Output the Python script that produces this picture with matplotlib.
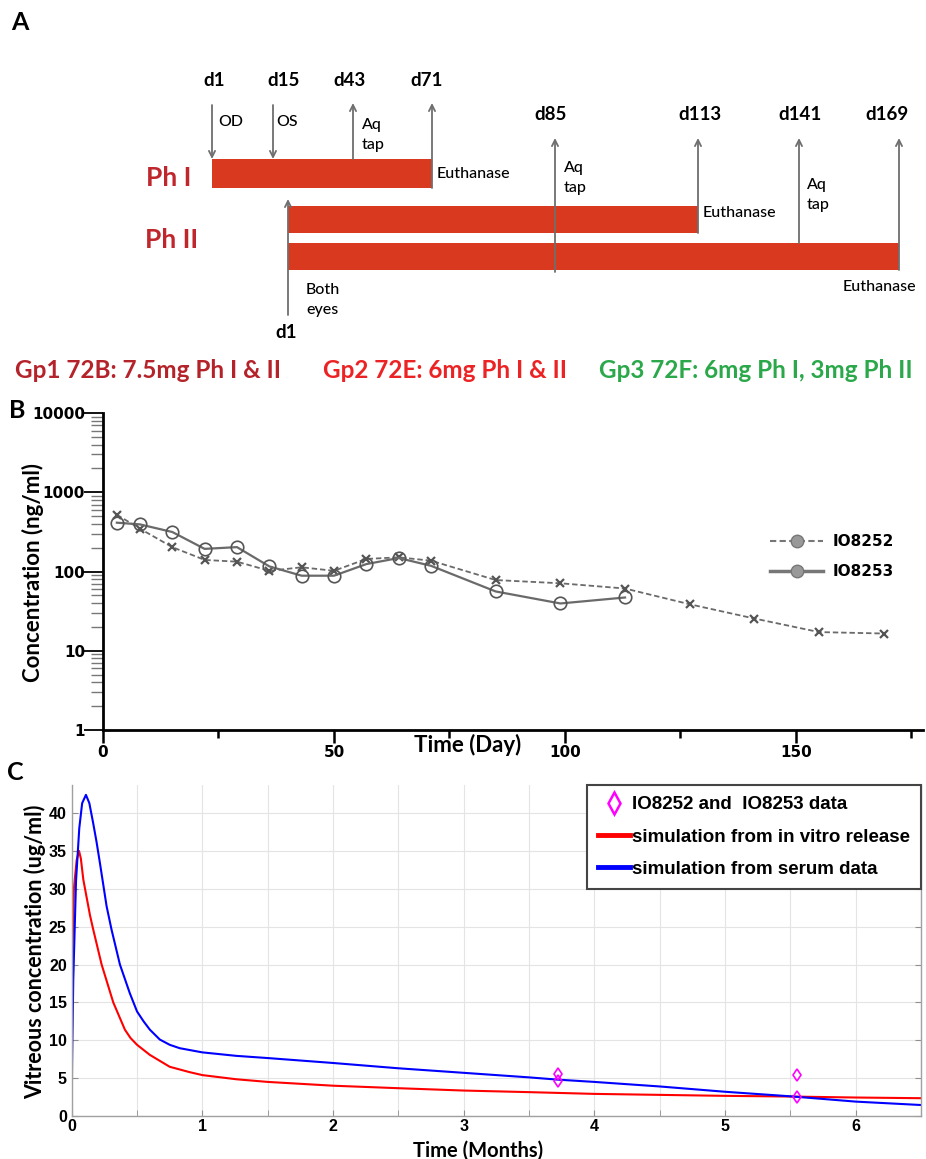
import matplotlib
matplotlib.use('Agg')
import matplotlib.pyplot as plt
from matplotlib.lines import Line2D
from matplotlib.ticker import LogLocator, NullFormatter, MultipleLocator

plt.rcParams['font.family'] = ['Lato', 'DejaVu Sans']

W, H = 926, 1159   # figure size in pixels


def fx(x):
    return x / W


def fy(y):
    return 1 - y / H


# ---------------- data ----------------
# Panel A: study design
ph1_days = ['d1', 'd15', 'd43', 'd71']
ph1_notes = ['OD', 'OS', 'Aq\ntap', 'Euthanase']
ph2_days = ['d85', 'd113', 'd141', 'd169']
ph2_notes = ['Aq\ntap', 'Euthanase', 'Aq\ntap', 'Euthanase']
groups = ['Gp1 72B: 7.5mg Ph I & II', 'Gp2 72E: 6mg Ph I & II', 'Gp3 72F: 6mg Ph I, 3mg Ph II']

# Panel B: aqueous concentration (ng/ml) vs day
days_52 = [3, 8, 15, 22, 29, 36, 43, 50, 57, 64, 71, 85, 99, 113, 127, 141, 155, 169]
conc_52 = [520, 347, 203, 140, 133, 102, 113, 102, 144, 151, 137, 78, 71, 61, 38.6, 25.5, 17.2, 16.5]
days_53 = [3, 8, 15, 22, 29, 36, 43, 50, 57, 64, 71, 85, 99, 113]
conc_53 = [413, 393, 315, 193, 203, 116, 88.5, 88.5, 124, 148, 118, 56, 39.5, 47]

# Panel C: vitreous concentration (ug/ml) vs months
t_red = [0, 0.002, 0.004, 0.016, 0.038, 0.056, 0.07, 0.089, 0.14, 0.165, 0.229, 0.318, 0.407,
         0.45, 0.5, 0.598, 0.75, 0.9, 1.0, 1.26, 1.5, 2.0, 2.5, 3.0, 3.5, 4.0, 4.5, 5.0, 5.5,
         6.0, 6.5]
v_red = [0, 10, 19.8, 29.9, 33.8, 35.0, 34.0, 31.2, 26.5, 24.6, 20.0, 15.0, 11.4,
         10.3, 9.4, 8.07, 6.5, 5.8, 5.4, 4.85, 4.5, 4.0, 3.67, 3.36, 3.15, 2.92, 2.79, 2.66, 2.57,
         2.44, 2.35]
t_blue = [0, 0.003, 0.012, 0.033, 0.058, 0.08, 0.109, 0.135, 0.164, 0.19, 0.216, 0.267, 0.305,
          0.369, 0.445, 0.5, 0.55, 0.598, 0.674, 0.75, 0.827, 1.0, 1.26, 1.5, 2.0, 2.5, 3.0,
          3.5, 3.72, 4.0, 4.5, 5.0, 5.5, 6.0, 6.5]
v_blue = [0, 7, 18, 31, 38, 41.3, 42.4, 41.3, 38.7, 36.2, 33.4, 27.7, 24.6,
          20.0, 16.2, 13.8, 12.5, 11.4, 10.1, 9.4, 8.95, 8.4, 7.94, 7.65, 7.0, 6.3, 5.7,
          5.1, 4.8, 4.5, 3.9, 3.2, 2.6, 1.9, 1.45]
t_obs = [3.72, 3.72, 5.55, 5.55]
v_obs = [5.5, 4.6, 5.35, 2.57]

fig = plt.figure(figsize=(W / 100, H / 100), dpi=100)

# ---------------- panel A (schematic, pixel coordinates) ----------------
ax_a = fig.add_axes([0, 0, 1, 1])
ax_a.set_xlim(0, W)
ax_a.set_ylim(H, 0)
ax_a.axis('off')

bar_red = '#d93a1f'
ax_a.barh([173.5, 219.5, 256.5], [220, 410, 611], left=[212, 288, 288],
          height=[29, 27, 27], color=bar_red)

arrow_kw = dict(arrowstyle='->', color='#6e6e6e', lw=1.3, mutation_scale=11,
                shrinkA=0, shrinkB=0)


def arrow(x, y_from, y_to):
    ax_a.annotate('', xy=(x, y_to), xytext=(x, y_from), arrowprops=arrow_kw)


# Ph I events: arrow x, tail, head; label x; note position
ph1_arrows = [(212, 105, 159), (273, 105, 159), (353, 159, 103), (432, 188, 103)]
ph1_label_x = [214, 284, 349, 427]
ph1_note_pos = [(218, 122), (276, 122), (362, 135), (437, 174)]
for (x, y0, y1), lx, lab, (nx, ny), note in zip(ph1_arrows, ph1_label_x, ph1_days,
                                                 ph1_note_pos, ph1_notes):
    arrow(x, y0, y1)
    ax_a.text(lx, 80, lab, ha='center', va='center', fontsize=13.5, fontweight='bold')
    ax_a.text(nx, ny, note, ha='left', va='center', fontsize=11.5, linespacing=1.5,
              fontweight='medium')

ph2_arrows = [(555, 272, 138), (698, 233, 138), (799, 243, 138), (899, 270, 138)]
ph2_label_x = [551, 700, 800, 887]
ph2_note_pos = [(564, 178), (703, 213), (807, 195), (843, 287)]
for (x, y0, y1), lx, lab, (nx, ny), note in zip(ph2_arrows, ph2_label_x, ph2_days,
                                                 ph2_note_pos, ph2_notes):
    arrow(x, y0, y1)
    ax_a.text(lx, 114, lab, ha='center', va='center', fontsize=13.5, fontweight='bold')
    ax_a.text(nx, ny, note, ha='left', va='center', fontsize=11.5, linespacing=1.5,
              fontweight='medium')

# Ph II start
arrow(288, 315, 199)
ax_a.text(286, 333, 'd1', ha='center', va='center', fontsize=13.5, fontweight='bold')
ax_a.text(306, 300, 'Both\neyes', ha='left', va='center', fontsize=11.5, linespacing=1.5,
          fontweight='medium')

ax_a.text(169, 178, 'Ph I', ha='center', va='center', fontsize=19, fontweight='bold',
          color='#c0272d')
ax_a.text(172, 240, 'Ph II', ha='center', va='center', fontsize=19, fontweight='bold',
          color='#c0272d')

group_colors = ['#b5232a', '#ec2324', '#2aa84a']
for gx, g, c in zip([15, 323, 599], groups, group_colors):
    ax_a.text(gx, 370, g, ha='left', va='center', fontsize=17.5, fontweight='bold', color=c)

# panel letters
fig.text(fx(20), fy(23), 'A', ha='center', va='center', fontsize=18, fontweight='bold')
fig.text(fx(17), fy(410), 'B', ha='center', va='center', fontsize=18, fontweight='bold')
fig.text(fx(15), fy(773), 'C', ha='center', va='center', fontsize=18, fontweight='bold')

# ---------------- panel B ----------------
ax_b = fig.add_axes([fx(103), fy(730), (923 - 103) / W, (730 - 413) / H])
ax_b.plot(days_52, conc_52, ls=(0, (3, 1.6)), color='#6a6a6a', lw=1.3,
          marker='x', ms=6, mew=1.6, mec='#555555')
ax_b.plot(days_53, conc_53, ls='-', color='#6a6a6a', lw=1.6,
          marker='o', ms=9, mfc='none', mec='#555555', mew=1.2)
ax_b.set_yscale('log')
ax_b.set_ylim(1, 10000)
ax_b.set_xlim(0, 177.5)
for s in ['top', 'right']:
    ax_b.spines[s].set_visible(False)
for s in ['left', 'bottom']:
    ax_b.spines[s].set_linewidth(2)
ax_b.set_xticks([0, 50, 100, 150])
ax_b.set_xticks([25, 75, 125, 175], minor=True)
ax_b.set_yticks([1, 10, 100, 1000, 10000])
ax_b.set_yticklabels(['1', '10', '100', '1000', '10000'])
ax_b.yaxis.set_minor_locator(LogLocator(base=10, subs=range(2, 10)))
ax_b.yaxis.set_minor_formatter(NullFormatter())
ax_b.tick_params(axis='y', which='major', length=14, width=1.3, pad=-1, labelsize=11)
ax_b.tick_params(axis='y', which='minor', length=9, width=1, color='#777777')
ax_b.tick_params(axis='x', which='major', length=9, width=1.8, pad=2, labelsize=11)
ax_b.tick_params(axis='x', which='minor', length=5.5, width=1.8)
for lab in ax_b.get_xticklabels() + ax_b.get_yticklabels():
    lab.set_fontweight('bold')
    lab.set_family('DejaVu Sans')

leg_b = [Line2D([], [], ls=(0, (3, 1.6)), color='#777777', lw=1.5, marker='o', ms=9,
                mfc='#999999', mec='#777777'),
         Line2D([], [], ls='-', color='#777777', lw=2.5, marker='o', ms=9,
                mfc='#999999', mec='#777777')]
ax_b.legend(leg_b, ['IO8252', 'IO8253'], loc='upper left',
            bbox_to_anchor=(fx(770), fy(534)), bbox_transform=fig.transFigure,
            frameon=False, handlelength=3.5, handletextpad=0.6, labelspacing=1.0,
            borderpad=0, borderaxespad=0,
            prop=dict(family='DejaVu Sans', weight='bold', size=11))

fig.text(fx(33), fy(572), 'Concentration (ng/ml)', rotation=90, ha='center',
         va='center', fontsize=16, fontweight='bold')
fig.text(fx(468), fy(745), 'Time (Day)', ha='center', va='center', fontsize=16,
         fontweight='bold')

# ---------------- panel C ----------------
ax_c = fig.add_axes([fx(71.7), fy(1116), (921 - 71.7) / W, (1116 - 785) / H])
ax_c.plot(t_red, v_red, color='#ff0000', lw=1.5)
ax_c.plot(t_blue, v_blue, color='#0000ff', lw=1.5)
ax_c.plot(t_obs, v_obs, ls='none', marker='d', ms=6, mfc='none', mec='#ff00ff', mew=1.2,
          zorder=4)
ax_c.set_xlim(0, 6.5)
ax_c.set_ylim(0, 43.7)
ax_c.xaxis.set_major_locator(MultipleLocator(1))
ax_c.xaxis.set_minor_locator(MultipleLocator(0.5))
ax_c.yaxis.set_major_locator(MultipleLocator(5))
ax_c.grid(which='both', color='#e4e4e4', lw=0.8)
ax_c.set_axisbelow(True)
ax_c.spines['top'].set_visible(False)
for s in ['left', 'bottom', 'right']:
    ax_c.spines[s].set_color('#a0a0a0')
    ax_c.spines[s].set_linewidth(1)
ax_c.tick_params(which='both', direction='in', right=True, color='#909090', length=4,
                 labelsize=11.5)
ax_c.tick_params(axis='y', pad=3.5)
ax_c.tick_params(axis='x', pad=2)
for lab in ax_c.get_xticklabels() + ax_c.get_yticklabels():
    lab.set_fontweight('bold')
    lab.set_family('Liberation Sans')

leg_c = [Line2D([], [], ls='none', marker='d', ms=11, mfc='none', mec='#ff00ff', mew=1.8),
         Line2D([], [], color='#ff0000', lw=3.5),
         Line2D([], [], color='#0000ff', lw=3.5)]
lg = ax_c.legend(leg_c, ['IO8252 and  IO8253 data', 'simulation from in vitro release',
                         'simulation from serum data'],
                 loc='upper right', bbox_to_anchor=(1, 1), borderaxespad=0, fancybox=False,
                 edgecolor='#444444', framealpha=1, handlelength=1.7, handletextpad=0.1,
                 labelspacing=0.8, borderpad=0.6,
                 prop=dict(family='Liberation Sans', weight='bold', size=13.5))
lg.get_frame().set_linewidth(1.5)

fig.text(fx(35), fy(952), 'Vitreous concentration (ug/ml)', rotation=90, ha='center',
         va='center', fontsize=15.5, fontweight='bold')
fig.text(fx(478), fy(1151), 'Time (Months)', ha='center', va='center', fontsize=14.5,
         fontweight='bold')

fig.savefig('out.png', dpi=100)
